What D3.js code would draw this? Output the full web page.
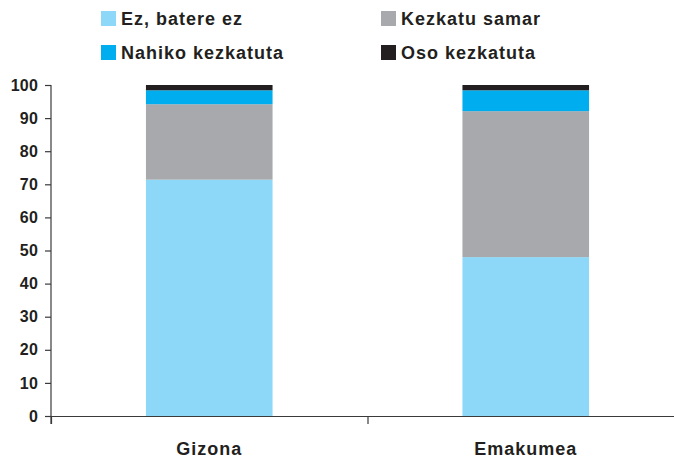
<!DOCTYPE html>
<html lang="en">
<head>
	<meta charset="utf-8">
	<style>
		body { margin: 0; background: white; }
		svg text { font-family: 'Liberation Sans', Arial, sans-serif; font-weight: bold; }
		.axis path, .axis line { stroke: #3a3a3a; stroke-width: 1.2px; }
		.axis text { fill: #231F20; }
	</style>
</head>
<body>
	<svg width="674" height="459"></svg>
	<script src="https://d3js.org/d3.v7.min.js"></script>
	<script>
		// data
		const categories = ['Gizona', 'Emakumea'];
		const seriesNames = ['Ez, batere ez', 'Kezkatu samar', 'Nahiko kezkatuta', 'Oso kezkatuta'];
		const seriesColors = ['#8DD8F8', '#A7A9AC', '#00AEEF', '#231F20'];
		const ezBatere = [71.4, 48.0];
		const kezkatuSamar = [22.8, 44.1];
		const nahikoKezkatuta = [4.2, 6.3];
		const osoKezkatuta = [1.6, 1.6];
		const yTicks = [0, 10, 20, 30, 40, 50, 60, 70, 80, 90, 100];

		const width = 674, height = 459;
		const svg = d3.select('svg');

		const rows = categories.map((c, i) => ({
			cat: c,
			'Ez, batere ez': ezBatere[i],
			'Kezkatu samar': kezkatuSamar[i],
			'Nahiko kezkatuta': nahikoKezkatuta[i],
			'Oso kezkatuta': osoKezkatuta[i]
		}));
		const stacked = d3.stack().keys(seriesNames)(rows);

		const x = d3.scaleBand().domain(categories).range([51, 684]);
		const xEdge = d3.scaleLinear().domain([0, 2]).range([51, 684]);
		const y = d3.scaleLinear().domain([0, 100]).range([416, 85]);
		const color = d3.scaleOrdinal().domain(seriesNames).range(seriesColors);

		const barW = x.bandwidth() * 0.4;

		// bars
		svg.append('g').selectAll('g')
			.data(stacked)
			.join('g')
			.attr('fill', d => color(d.key))
			.selectAll('rect')
			.data(d => d)
			.join('rect')
			.attr('x', d => x(d.data.cat) + (x.bandwidth() - barW) / 2)
			.attr('width', barW)
			.attr('y', d => y(d[1]))
			.attr('height', d => y(d[0]) - y(d[1]));

		// y axis
		const yAxis = svg.append('g')
			.attr('class', 'axis')
			.attr('transform', 'translate(51,0)')
			.call(d3.axisLeft(y).tickValues(yTicks).tickSize(6).tickPadding(7).tickSizeOuter(0));
		yAxis.selectAll('text').style('font-size', '16px').style('letter-spacing', '0.2px');
		yAxis.select('.domain').attr('d', 'M0,' + y(100) + 'V' + (y(0) + 8));

		// x axis (band edges ticks)
		svg.append('g')
			.attr('class', 'axis')
			.attr('transform', 'translate(0,' + y(0) + ')')
			.call(d3.axisBottom(xEdge).tickValues([0, 1, 2]).tickFormat('').tickSize(8).tickSizeOuter(0));

		// x labels
		const xLab = svg.append('g')
			.attr('class', 'axis')
			.attr('transform', 'translate(0,' + y(0) + ')')
			.call(d3.axisBottom(x).tickSize(0).tickPadding(26));
		xLab.select('.domain').remove();
		xLab.selectAll('text').style('font-size', '18px').style('letter-spacing', '1px');

		// legend
		const legend = svg.append('g');
		const legPos = [[101, 11], [381, 11], [101, 45], [381, 45]];
		const legOrder = ['Ez, batere ez', 'Kezkatu samar', 'Nahiko kezkatuta', 'Oso kezkatuta'];
		legOrder.forEach((name, i) => {
			const g = legend.append('g').attr('transform', 'translate(' + legPos[i][0] + ',' + legPos[i][1] + ')');
			g.append('rect').attr('width', 15).attr('height', 15).attr('fill', color(name));
			g.append('text')
				.attr('x', 20).attr('y', 14)
				.style('font-size', '18px')
				.style('letter-spacing', '1px')
				.attr('fill', '#231F20')
				.text(name);
		});
	</script>
</body>
</html>
